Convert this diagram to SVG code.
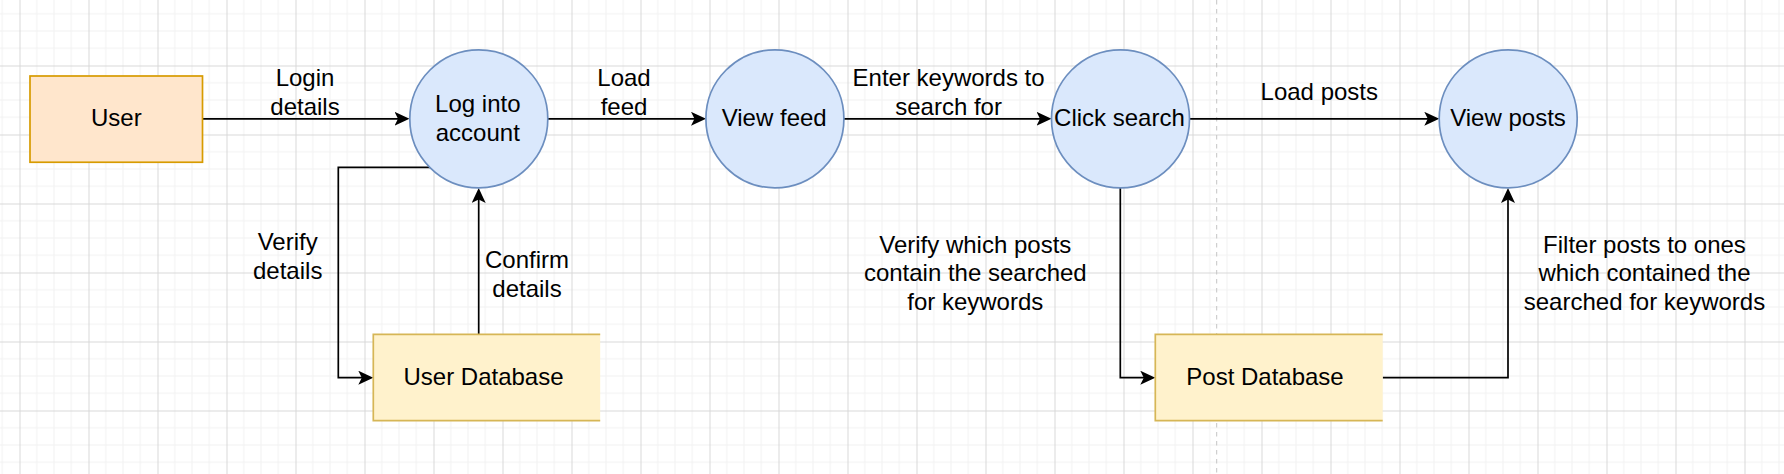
<svg xmlns="http://www.w3.org/2000/svg" width="1784" height="474" viewBox="0 0 1784 474">
<style>
text{font-family:"Liberation Sans",Arial,Helvetica,sans-serif;font-size:24px;fill:#000;text-anchor:middle}
.proc{fill:#dae8fc;stroke:#6c8ebf;stroke-width:1.7}
.ext{fill:#ffe6cc;stroke:#d79b00;stroke-width:1.7}
.storefill{fill:#fff2cc;stroke:none}
.storeline{fill:none;stroke:#d6b656;stroke-width:1.7}
.conn{fill:none;stroke:#000;stroke-width:1.7;marker-end:url(#arrow)}
.plain{fill:none;stroke:#000;stroke-width:1.7}
</style>
<defs>
<marker id="arrow" markerUnits="userSpaceOnUse" markerWidth="16" markerHeight="16" refX="11" refY="7" orient="auto">
<path d="M0,0 L15,7 L0,14 L3.5,7 Z" fill="#000"/>
</marker>
<pattern id="grid" patternUnits="userSpaceOnUse" x="19.5" y="-3.5" width="69" height="69">
<path d="M17.25,0V69M34.5,0V69M51.75,0V69M0,17.25H69M0,34.5H69M0,51.75H69" stroke="#f1f1f1" stroke-width="1" fill="none"/>
<path d="M0.5,0V69M0,0.5H69" stroke="#d8d8d8" stroke-width="1" fill="none"/>
</pattern>
</defs>
<rect x="0" y="0" width="1784" height="474" fill="#fff"/>
<rect x="0" y="0" width="1784" height="474" fill="url(#grid)"/>
<line x1="1216.7" y1="0" x2="1216.7" y2="474" stroke="#c4c4c4" stroke-width="1" stroke-dasharray="4.5 4.5"/>

<g id="connectors">
<path id="e-login" class="conn" d="M202.5,118.8 H405.5"/>
<path id="e-loadfeed" class="conn" d="M548,118.8 H702"/>
<path id="e-enter" class="conn" d="M844,118.8 H1047.5"/>
<path id="e-loadposts" class="conn" d="M1189.5,118.8 H1435.3"/>
<path id="e-verify" class="conn" d="M430,167.3 H338.3 V377.7 H369.3"/>
<path id="e-confirm" class="conn" d="M478.7,334.3 V192"/>
<path id="e-verifyposts" class="conn" d="M1120.3,188 V377.7 H1151.3"/>
<path id="e-filter" class="conn" d="M1382.7,377.7 H1508 V192"/>
<text x="305" y="86">Login</text>
<text x="305" y="115">details</text>
<text x="624" y="86">Load</text>
<text x="624" y="115">feed</text>
<text x="948.6" y="86">Enter keywords to</text>
<text x="948.6" y="115">search for</text>
<text x="1319.3" y="100">Load posts</text>
<text x="287.7" y="250">Verify</text>
<text x="287.7" y="278.7">details</text>
<text x="527" y="268.3">Confirm</text>
<text x="527" y="296.5">details</text>
<text x="975.3" y="252.7">Verify which posts</text>
<text x="975.3" y="281.4">contain the searched</text>
<text x="975.3" y="310">for keywords</text>
<text x="1644.5" y="252.7">Filter posts to ones</text>
<text x="1644.5" y="281.4">which contained the</text>
<text x="1644.5" y="310">searched for keywords</text>
</g>

<g id="user">
<rect class="ext" x="30" y="76" width="172.5" height="86.25"/>
<text x="116.3" y="126">User</text>
</g>
<g id="log-into-account">
<circle class="proc" cx="478.8" cy="118.8" r="69"/>
<text x="477.8" y="112">Log into</text>
<text x="477.8" y="140.8">account</text>
</g>
<g id="view-feed">
<circle class="proc" cx="774.9" cy="118.8" r="69"/>
<text x="774.2" y="126">View feed</text>
</g>
<g id="click-search">
<circle class="proc" cx="1120.5" cy="118.8" r="69"/>
<text x="1119.4" y="126">Click search</text>
</g>
<g id="view-posts">
<circle class="proc" cx="1508.2" cy="118.8" r="69"/>
<text x="1508" y="126">View posts</text>
</g>
<g id="user-database">
<rect class="storefill" x="373.3" y="334.3" width="226.9" height="86.3"/>
<path class="storeline" d="M600.2,334.3 H373.3 V420.6 H600.2"/>
<text x="483.5" y="385">User Database</text>
</g>
<g id="post-database">
<rect class="storefill" x="1155.3" y="334.3" width="227.4" height="86.3"/>
<path class="storeline" d="M1382.7,334.3 H1155.3 V420.6 H1382.7"/>
<text x="1265" y="385">Post Database</text>
</g>
</svg>
